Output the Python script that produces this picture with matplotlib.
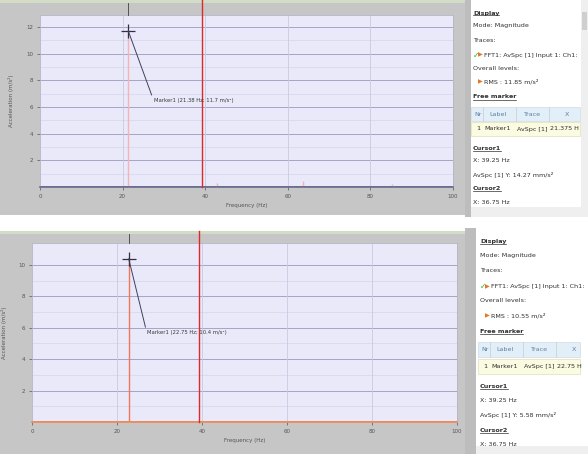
import matplotlib
matplotlib.use("Agg")
import matplotlib.pyplot as plt
from matplotlib.patches import Rectangle
from matplotlib.lines import Line2D

# figure size in pixels (dpi 100)
W, H = 588, 454

# spectrum data, upper measurement
top_freq = [21.375, 42.9, 63.8, 85.2]
top_amp = [11.7, 0.3, 0.45, 0.2]
top_yticks = [2, 4, 6, 8, 10, 12]
top_ymax = 12.9
top_marker_text = "Marker1 (21.38 Hz; 11.7 m/s²)"
top_rms = "RMS : 11.85 m/s²"
top_table_x = "21.375 H"
top_cursor_y = "AvSpc [1] Y: 14.27 mm/s²"

# spectrum data, lower measurement
bot_freq = [22.75]
bot_amp = [10.4]
bot_yticks = [2, 4, 6, 8, 10]
bot_ymax = 11.4
bot_marker_text = "Marker1 (22.75 Hz; 10.4 m/s²)"
bot_rms = "RMS : 10.55 m/s²"
bot_table_x = "22.75 H"
bot_cursor_y = "AvSpc [1] Y: 5.58 mm/s²"

xticks = [0, 20, 40, 60, 80, 100]
cursor1_freq = 39.25
cursor1_text = "X: 39.25 Hz"
cursor2_text = "X: 36.75 Hz"

GRAY = "#c6c6c6"
PLOT_BG = "#e9e9fa"


def fx(x):
    return x / W


def fy(y):
    return 1 - y / H


def rect_px(fig, x0, y0, x1, y1, color, z=-1, ec="none", lw=0):
    fig.add_artist(Rectangle((fx(x0), fy(y1)), (x1 - x0) / W, (y1 - y0) / H,
                             transform=fig.transFigure, facecolor=color,
                             edgecolor=ec, linewidth=lw, zorder=z))


def draw_plot(fig, box, freq, amp, yticks, ymax, marker_text, text_xy,
              spike_color, base_color, above_px, ylpad):
    x0, y0, x1, y1 = box
    ax = fig.add_axes([fx(x0), fy(y1), (x1 - x0) / W, (y1 - y0) / H])
    ax.set_facecolor(PLOT_BG)
    ax.set_xlim(0, 100)
    ax.set_ylim(0, ymax)

    # grid: major + half steps
    for y in yticks:
        ax.axhline(y, color="#a4a4c8", lw=0.7, zorder=1)
        ax.axhline(y - 1, color="#d4d4ec", lw=0.5, zorder=1)
    for x in xticks[1:-1]:
        ax.axvline(x, color="#c9c9e2", lw=0.6, zorder=1)

    # spectrum lines
    ax.plot([0, 100], [0, 0], color=base_color, lw=1.2, zorder=2)
    ax.vlines(freq, 0, amp, color=spike_color, lw=1.0, zorder=2)

    # cursor (runs up over the plot frame)
    h = y1 - y0
    ax.axvline(cursor1_freq, ymin=0, ymax=1 + above_px / h, color="#e02828",
               lw=1.0, clip_on=False, zorder=5)
    # marker tick above the frame
    ax.axvline(freq[0], ymin=1.0, ymax=1 + (above_px - 3) / h, color="#404040",
               lw=0.6, clip_on=False, zorder=5)

    # peak marker with label
    ax.plot(freq[0], amp[0], marker="+", ms=10, mew=0.9, color="#303040", zorder=6)
    ax.annotate(marker_text, xy=(freq[0], amp[0]), xytext=text_xy,
                fontsize=3.8, color="#383838", va="center", ha="left",
                arrowprops=dict(arrowstyle="-", color="#404060", lw=0.7,
                                shrinkA=0, shrinkB=0, relpos=(0, 0.5)), zorder=6)

    ax.set_xticks(xticks)
    ax.set_yticks(yticks)
    ax.tick_params(labelsize=4, colors="#555555", length=2, width=0.5, pad=3)
    ax.set_xlabel("Frequency (Hz)", fontsize=4, color="#555555", labelpad=3)
    ax.set_ylabel("Acceleration (m/s²)", fontsize=4, color="#555555", labelpad=ylpad)
    for s in ["top", "right", "left"]:
        ax.spines[s].set_color("#b4b4c4")
        ax.spines[s].set_linewidth(0.6)
    ax.spines["bottom"].set_color(base_color)
    ax.spines["bottom"].set_linewidth(1.2)
    return ax


def draw_side(fig, x_text, y0, step, rms, table_x, cursor_y, heads):
    rows = [13, 26, 40, 55, 68, 82, 97, 114, 129, 148, 161, 175, 189, 202]
    ys = [y0 + r * step for r in rows]
    fs = 4.6

    def t(x, y, s, **kw):
        kw.setdefault("fontsize", fs)
        kw.setdefault("color", "#303030")
        return fig.text(fx(x), fy(y), s, va="center", ha="left", **kw)

    heads.append(t(x_text, ys[0], "Display", fontweight="bold"))
    t(x_text, ys[1], "Mode: Magnitude")
    t(x_text, ys[2], "Traces:")
    t(x_text, ys[3], "✓", color="#3aa83a", fontsize=5.5)
    t(x_text + 5, ys[3], "▶", color="#e07828", fontsize=4.5)
    t(x_text + 11, ys[3], "FFT1: AvSpc [1] Input 1: Ch1:")
    t(x_text, ys[4], "Overall levels:")
    t(x_text + 5, ys[5], "▶", color="#e07828", fontsize=4.5)
    t(x_text + 11, ys[5], rms)
    heads.append(t(x_text, ys[6], "Free marker", fontweight="bold"))

    # marker table
    hy, ry = ys[7], ys[8]
    rh = 7 * step
    rect_px(fig, x_text - 2, hy - rh, 580, hy + rh, "#e2eff8", z=1, ec="#c8d4dc", lw=0.4)
    rect_px(fig, x_text - 2, ry - rh, 580, ry + rh, "#fbfbe2", z=1, ec="#d8d8b0", lw=0.4)
    for cx in [x_text + 10, x_text + 43, x_text + 76]:
        fig.add_artist(Line2D([fx(cx), fx(cx)], [fy(hy - rh), fy(hy + rh)],
                              transform=fig.transFigure, color="#b8c4cc", lw=0.4))
    t(x_text + 1, hy, "Nr", color="#6080a0")
    t(x_text + 16, hy, "Label", color="#6080a0")
    t(x_text + 50, hy, "Trace", color="#6080a0")
    t(x_text + 92, hy, "X", color="#6080a0")
    t(x_text + 3, ry, "1")
    t(x_text + 11, ry, "Marker1")
    t(x_text + 44, ry, "AvSpc [1]")
    t(x_text + 77, ry, table_x)

    heads.append(t(x_text, ys[9], "Cursor1", fontweight="bold"))
    t(x_text, ys[10], cursor1_text)
    t(x_text, ys[11], cursor_y)
    heads.append(t(x_text, ys[12], "Cursor2", fontweight="bold"))
    t(x_text, ys[13], cursor2_text)


def main():
    fig = plt.figure(figsize=(W / 100, H / 100), dpi=100)
    fig.patch.set_facecolor("white")

    # window backgrounds
    rect_px(fig, 0, 0, 465, 215, GRAY)
    rect_px(fig, 0, 231, 465, 454, GRAY)
    rect_px(fig, 0, 0, 465, 3, "#d4dcc8")
    rect_px(fig, 0, 231, 465, 234, "#d4dcc8")
    # splitters and scroll bars of the side panels
    rect_px(fig, 465, 0, 471, 217, "#bdbdbd")
    rect_px(fig, 465, 228, 476, 454, "#bdbdbd")
    rect_px(fig, 581, 0, 588, 217, "#efefef")
    rect_px(fig, 582, 12, 587, 30, "#cfcfcf")
    rect_px(fig, 471, 207, 581, 217, "#efefef")
    rect_px(fig, 476, 446, 588, 454, "#efefef")

    draw_plot(fig, (40, 15, 453, 187), top_freq, top_amp, top_yticks, top_ymax,
              top_marker_text, (27.5, 6.5), "#f2b4b4", "#6a6a8e", 15, 9)
    draw_plot(fig, (32, 243, 457, 422), bot_freq, bot_amp, bot_yticks, bot_ymax,
              bot_marker_text, (27, 5.7), "#f07858", "#f08858", 12, 8)

    heads = []
    draw_side(fig, 473, 0, 1.0, top_rms, top_table_x, top_cursor_y, heads)
    draw_side(fig, 480, 228, 1.07, bot_rms, bot_table_x, bot_cursor_y, heads)

    # underline the headings
    fig.canvas.draw()
    inv = fig.transFigure.inverted()
    for h in heads:
        bb = h.get_window_extent()
        (a, b), (c, _) = inv.transform([(bb.x0, bb.y0), (bb.x1, bb.y0)])
        fig.add_artist(Line2D([a, c], [b, b], transform=fig.transFigure,
                              color="#303030", lw=0.5))

    fig.savefig("out.png", dpi=100, facecolor=fig.get_facecolor())


if __name__ == "__main__":
    main()
